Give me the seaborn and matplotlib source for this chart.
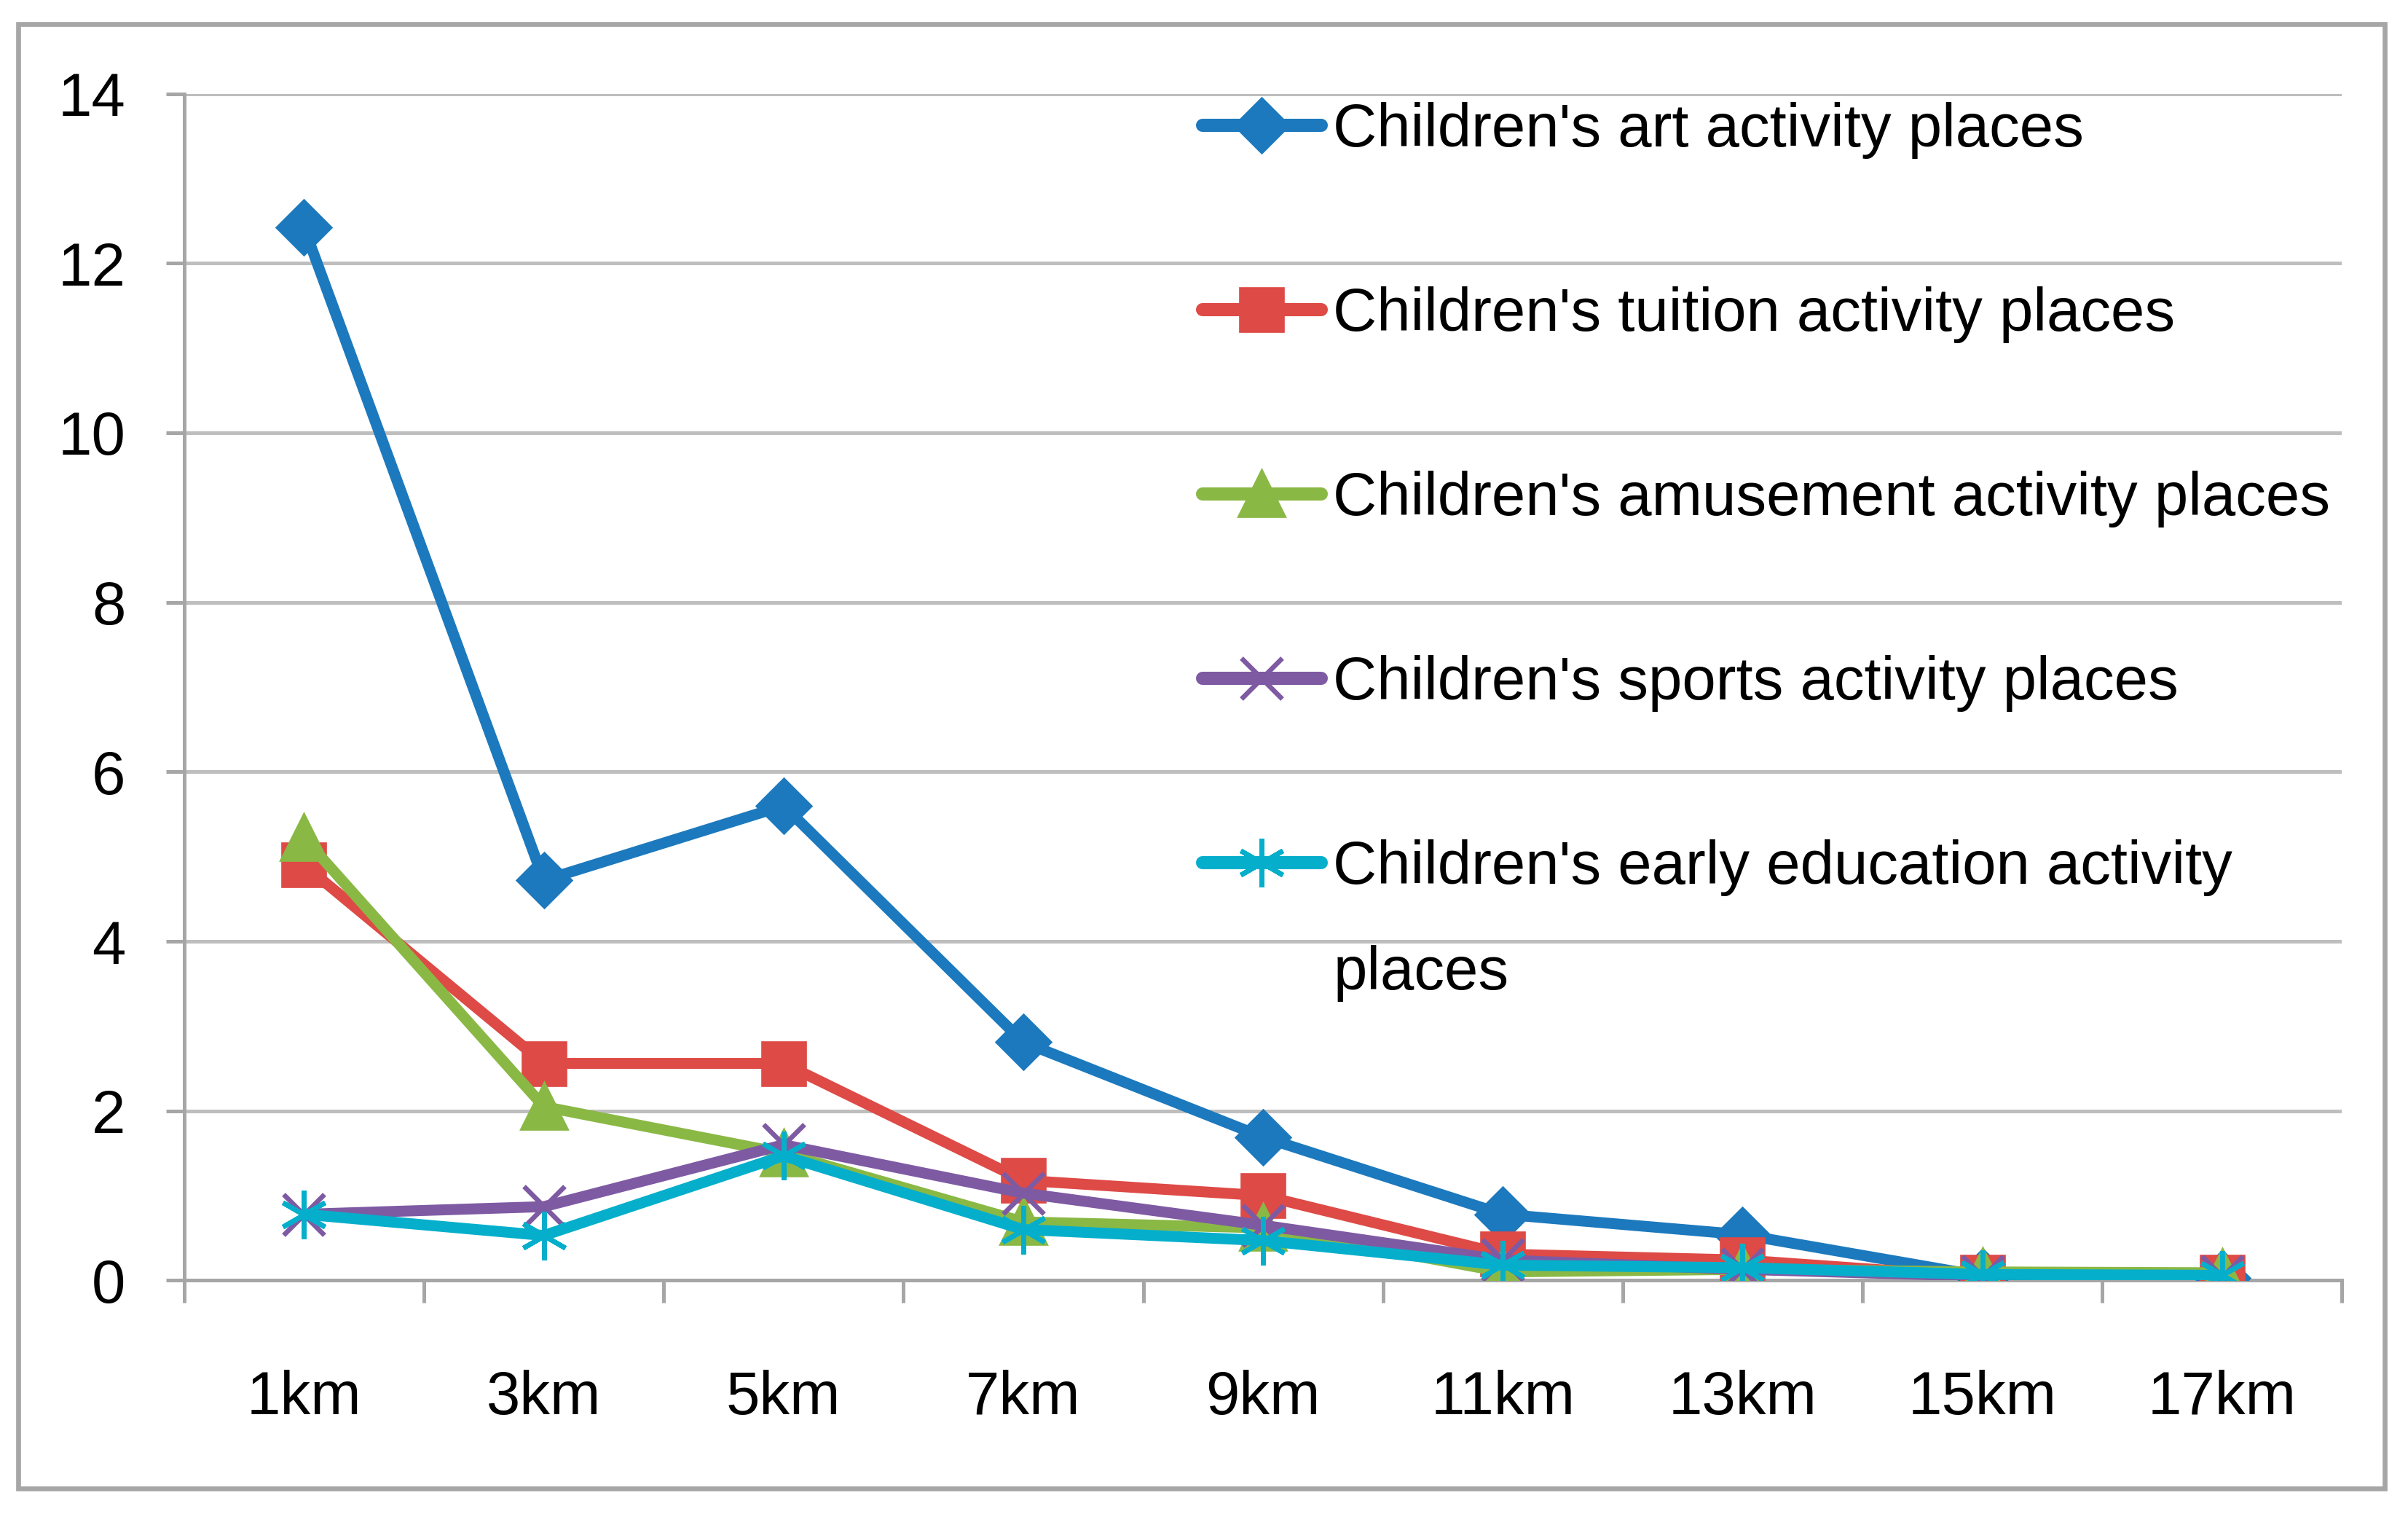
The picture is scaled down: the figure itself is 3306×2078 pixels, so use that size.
import pandas as pd
import matplotlib.pyplot as plt
import seaborn as sns
from matplotlib.patches import Rectangle

distances = ["1km", "3km", "5km", "7km", "9km", "11km", "13km", "15km", "17km"]

art = [12.42, 4.72, 5.60, 2.81, 1.69, 0.78, 0.54, 0.05, 0.03]
tuition = [4.90, 2.56, 2.56, 1.18, 1.00, 0.31, 0.24, 0.04, 0.04]
amusement = [5.22, 2.05, 1.50, 0.69, 0.62, 0.10, 0.13, 0.10, 0.09]
sports = [0.78, 0.87, 1.60, 1.03, 0.65, 0.24, 0.13, 0.05, 0.05]
early_edu = [0.78, 0.53, 1.47, 0.60, 0.47, 0.18, 0.15, 0.07, 0.06]

labels = [
    "Children's art activity places",
    "Children's tuition activity places",
    "Children's amusement activity places",
    "Children's sports activity places",
    "Children's early education activity",
]
wrap_line = "places"  # second line of the last legend label
colors = ["#1C79BD", "#DE4A46", "#8AB845", "#7E5AA3", "#05AFCB"]
markers = ["D", "s", "^", "x", (6, 2, 0)]
msizes = [18, 20, 21, 20, 24]

sns.set_theme(style="white")
plt.rcParams["font.family"] = ["Liberation Sans", "DejaVu Sans"]
plt.rcParams["text.color"] = "black"

fig = plt.figure(figsize=(16.53, 10.39), dpi=200)
ax = fig.add_axes([0.0765, 0.1543, 0.8961, 0.7838])

series = [art, tuition, amusement, sports, early_edu]
for vals, lab, col, mk, ms in zip(series, labels, colors, markers, msizes):
    df = pd.DataFrame({"pos": range(len(distances)), "value": vals})
    sns.lineplot(data=df, x="pos", y="value", ax=ax, color=col, linewidth=5.4,
                 marker=mk, markersize=ms, markeredgecolor=col, markerfacecolor=col,
                 markeredgewidth=2.4, label=lab, zorder=3)

ax.set_xlim(-0.5, len(distances) - 0.5)
ax.set_ylim(0, 14)
ax.set_yticks(range(0, 15, 2))
ax.set_xticks(range(len(distances)))
ax.set_xticklabels(distances)
ax.set_xticks([i - 0.5 for i in range(len(distances) + 1)], minor=True)
ax.set_xlabel("")
ax.set_ylabel("")

ax.yaxis.grid(True, color="#BEBEBE", linewidth=1.8)
ax.set_axisbelow(True)
for side in ["top", "right"]:
    ax.spines[side].set_visible(False)
for side in ["left", "bottom"]:
    ax.spines[side].set_color("#A6A6A6")
    ax.spines[side].set_linewidth(1.8)

ax.tick_params(axis="y", which="major", length=9, width=1.8, color="#A6A6A6",
               direction="out", pad=20, labelsize=30, labelcolor="black", left=True)
ax.tick_params(axis="x", which="major", length=0, pad=44, labelsize=30, labelcolor="black")
ax.tick_params(axis="x", which="minor", length=11, width=1.8, color="#A6A6A6",
               direction="out", bottom=True)

leg = ax.legend(loc="upper left", bbox_to_anchor=(0.472, 0.993), frameon=False,
                fontsize=30, handlelength=1.95, handletextpad=0.2, labelspacing=2.1,
                borderaxespad=0, borderpad=0)
for h in leg.get_lines():
    h.set_linewidth(6.5)

# second line of the wrapped last label, placed under its first line
fig.canvas.draw()
last = leg.get_texts()[-1]
bb = last.get_window_extent().transformed(ax.transAxes.inverted())
ax.text(bb.x0, bb.y0 - 0.089, wrap_line, transform=ax.transAxes, fontsize=30,
        ha="left", va="bottom", color="black")

fig.patches.append(Rectangle((0.0077, 0.017), 0.9827, 0.967, transform=fig.transFigure,
                             fill=False, edgecolor="#A6A6A6", linewidth=2.4))

fig.savefig("out.png", dpi=200, facecolor="white")
